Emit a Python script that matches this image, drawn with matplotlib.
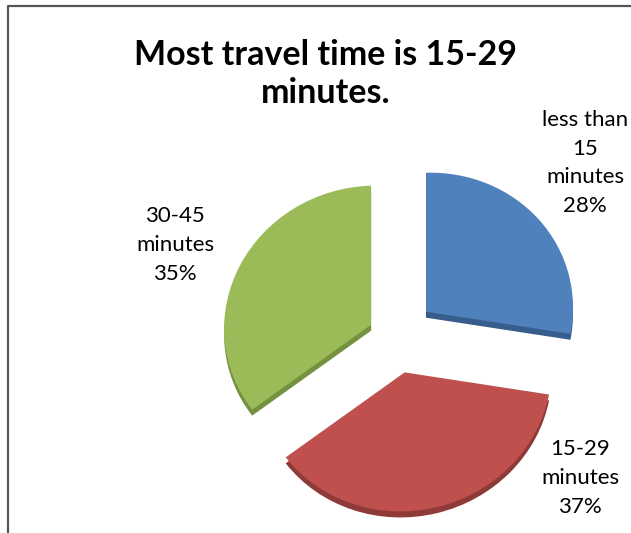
import textwrap
import matplotlib
matplotlib.use("Agg")
import matplotlib.pyplot as plt
from matplotlib.transforms import Affine2D
from matplotlib.lines import Line2D

# travel time shares
categories = ["less than 15 minutes", "15-29 minutes", "30-45 minutes"]
shares = [28, 37, 35]
title = "Most travel time is 15-29\nminutes."

colors = ["#4f81bd", "#c0504d", "#9bbb59"]
side_colors = ["#375d8c", "#8e3a38", "#74913f"]
explode = [0.265, 0.27, 0.19]

W, H = 631, 533
plt.rcParams["font.family"] = ["Lato", "DejaVu Sans"]

fig = plt.figure(figsize=(W / 100, H / 100), dpi=100)
ax = fig.add_axes([0, 0, 1, 1])

# slightly tilted pie: unit pie -> pixel space (y up)
cx, cy = 396, 336
tilt = Affine2D.from_values(147, 4, 0, 139, cx, H - cy)
depth = 6

# side band first (shifted down), then the top face
side = ax.pie(shares, startangle=90, counterclock=False, explode=explode,
              colors=side_colors, wedgeprops=dict(linewidth=0))[0]
top = ax.pie(shares, startangle=90, counterclock=False, explode=explode,
             colors=colors, wedgeprops=dict(linewidth=0))[0]
for w in side:
    w.set_transform(tilt + Affine2D().translate(0, -depth) + ax.transData)
    w.set_zorder(1)
for w in top:
    w.set_transform(tilt + ax.transData)
    w.set_zorder(2)

ax.set_aspect("auto")
ax.set_xlim(0, W)
ax.set_ylim(0, H)
ax.axis("off")

ax.text(326, H - 74, title, ha="center", va="center", fontsize=24.5,
        fontweight="bold", linespacing=1.2)

label_pos = [(585, H - 163), (580, H - 478), (175, H - 245)]
for cat, val, (x, y) in zip(categories, shares, label_pos):
    txt = "\n".join(textwrap.wrap(cat, 9, break_on_hyphens=False)) + f"\n{val}%"
    ax.text(x, y, txt, ha="center", va="center", fontsize=16, linespacing=1.55)

# chart frame (left and top edges)
ax.add_line(Line2D([8, 8, W], [0, H - 6, H - 6], color="#555555", lw=1.6))

fig.savefig("out.png", dpi=100)
